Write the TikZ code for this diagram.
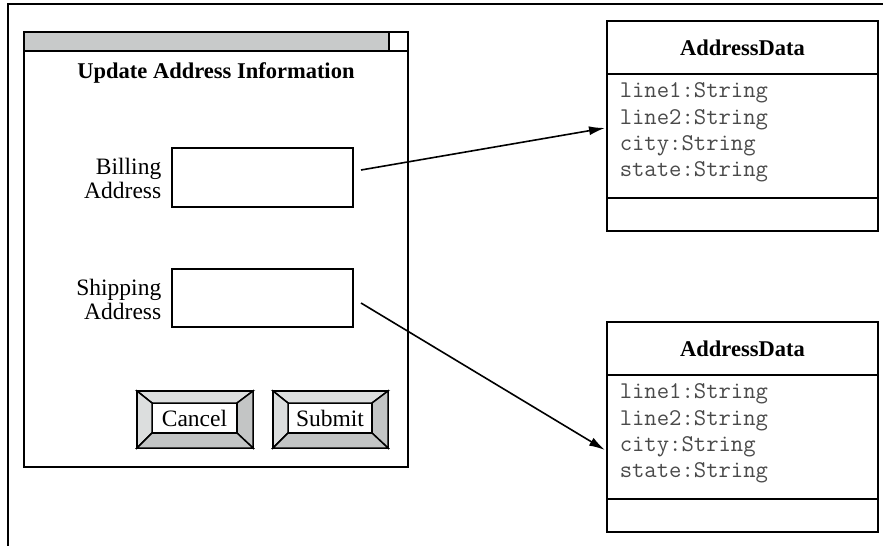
\documentclass[tikz,border=0pt]{standalone}
\usepackage{fontspec}
\setmainfont{Liberation Serif}
\usepackage{tikz}
\usepackage{xcolor}
\usetikzlibrary{arrows.meta}

\definecolor{bargray}{HTML}{C8CACA}
\definecolor{bevlight}{HTML}{DCDEDE}
\definecolor{bevdark}{HTML}{C3C5C5}
\definecolor{attrgray}{HTML}{4A4A4A}

\newcommand{\labelfont}{\fontsize{23.5}{24}\selectfont}
\newcommand{\headfont}{\fontsize{22.5}{24}\selectfont\bfseries}

% bevelled push button: name, left x, outer width, text
\newcommand{\bevelbtn}[4]{
    \node [box, minimum width=#3, minimum height=57, anchor=north west] (#1) at (#2,391) {};
    \node [box, minimum width=#3-31, minimum height=30, anchor=north west, font=\labelfont] (#1in) at (#2+15,403) {#4};
    \filldraw [fill=bevlight] (#1.north west) -- (#1.north east) -- (#1in.north east) -- (#1in.north west) -- cycle;
    \filldraw [fill=bevlight] (#1.north west) -- (#1.south west) -- (#1in.south west) -- (#1in.north west) -- cycle;
    \filldraw [fill=bevdark] (#1.north east) -- (#1.south east) -- (#1in.south east) -- (#1in.north east) -- cycle;
    \filldraw [fill=bevdark] (#1.south west) -- (#1.south east) -- (#1in.south east) -- (#1in.south west) -- cycle;
}

% class box: name, top y
\newcommand{\classbox}[2]{
    \node [box, minimum width=271, minimum height=53, anchor=north west, font=\headfont] (#1head) at (607,#2) {AddressData};
    \node [box, minimum width=271, minimum height=124, anchor=north] (#1attr) at (#1head.south) {};
    \node [box, minimum width=271, minimum height=33, anchor=north] (#1ops) at (#1attr.south) {};
    \node [attr, anchor=north west] (#1list) at ([xshift=12pt,yshift=-8pt]#1attr.north west)
        {line1:String\\line2:String\\city:String\\state:String};
}

\begin{document}
\begin{tikzpicture}[x=1pt, y=-1pt, line width=1.5pt,
    box/.style={draw, inner sep=0pt, outer sep=0pt},
    attr/.style={inner sep=0pt, align=left, text=attrgray,
        font=\ttfamily\fontsize{24}{26.3}\selectfont},
    link/.style={-{Latex[length=16pt,width=9pt]}, line width=1.6pt}]
    \useasboundingbox (0,0) rectangle (883,546);
    % page border
    \draw (883,4) -- (8,4) -- (8,546);

    % the form window
    \node [box, minimum width=384, minimum height=435, anchor=north west] (win) at (24,32) {};
    \node [box, fill=bargray, minimum width=365, minimum height=19, anchor=north west] (bar) at (win.north west) {};
    \node [box, fill=white, minimum width=19, minimum height=19, anchor=north west] (close) at (bar.north east) {};
    \node [font=\headfont] (title) at (216,73) {Update Address Information};

    \node [box, minimum width=181, minimum height=59, anchor=north west] (billbox) at (172,148) {};
    \node [anchor=east, align=right, inner sep=0pt, font=\labelfont] (billlbl) at (162,178) {Billing\\Address};
    \node [box, minimum width=181, minimum height=58, anchor=north west] (shipbox) at (172,269) {};
    \node [anchor=east, align=right, inner sep=0pt, font=\labelfont] (shiplbl) at (162,299) {Shipping\\Address};

    \bevelbtn{cancel}{137}{116}{Cancel}
    \bevelbtn{submit}{273}{115}{Submit}

    % the two data classes
    \classbox{billcls}{21}
    \classbox{shipcls}{322}

    \draw [link] ([xshift=8pt,yshift=7.5pt]billbox.east) -- ([xshift=-2pt,yshift=8pt]billclsattr.west);
    \draw [link] ([xshift=8pt,yshift=-5pt]shipbox.east) -- ([xshift=-2pt,yshift=-13pt]shipclsattr.west);
\end{tikzpicture}
\end{document}
